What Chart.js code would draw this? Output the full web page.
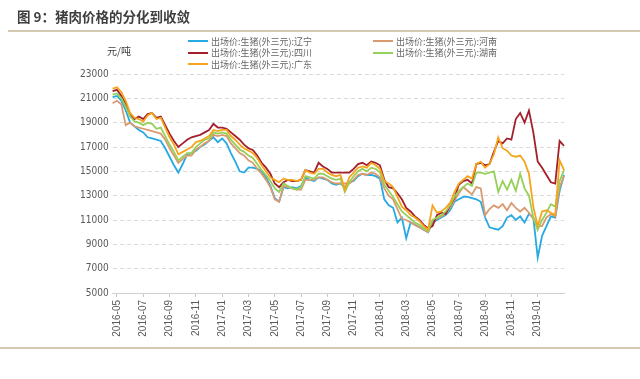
<!DOCTYPE html>
<html><head><meta charset="utf-8">
<script src="https://cdn.jsdelivr.net/npm/chart.js@4"></script>
<style>
html,body{margin:0;padding:0;background:#fff;}
#wrap{position:relative;width:640px;height:379px;overflow:hidden;background:#fff;}
canvas{position:absolute;left:0;top:0;}
.t{position:absolute;white-space:nowrap;}
#title{left:17px;top:8px;font:bold 13.5px "Noto Sans CJK SC",sans-serif;color:#3f3f3f;line-height:16px;}
#unit{left:107px;top:44px;font:10px "Noto Sans CJK SC",sans-serif;color:#404040;line-height:13px;}
.rule{position:absolute;height:2px;background:#d3c9b3;}
.lg{position:absolute;height:12px;font:9px "Noto Sans CJK SC",sans-serif;color:#666;line-height:12px;white-space:nowrap;}
.lg i{display:inline-block;width:20px;height:2px;vertical-align:middle;margin-right:3px;position:relative;top:-1px;}
</style>
</head><body>
<div id="wrap">
<canvas id="c" width="640" height="379"></canvas>
<div id="title" class="t">图 9：猪肉价格的分化到收敛</div>
<div class="rule" style="left:8px;top:30px;width:632px;"></div>
<div class="rule" style="left:0;top:347px;width:640px;"></div>
<div id="unit" class="t">元/吨</div>
<div id="legend"></div>
</div>
<script>
const dates = [
"2016-04-21",
"2016-05-01","2016-05-11","2016-05-21","2016-06-01","2016-06-11","2016-06-21",
"2016-07-01","2016-07-11","2016-07-21","2016-08-01","2016-08-11","2016-08-21",
"2016-09-01","2016-09-11","2016-09-21","2016-10-01","2016-10-11","2016-10-21",
"2016-11-01","2016-11-11","2016-11-21","2016-12-01","2016-12-11","2016-12-21",
"2017-01-01","2017-01-11","2017-01-21","2017-02-01","2017-02-11","2017-02-21",
"2017-03-01","2017-03-11","2017-03-21","2017-04-01","2017-04-11","2017-04-21",
"2017-05-01","2017-05-11","2017-05-21","2017-06-01","2017-06-11","2017-06-21",
"2017-07-01","2017-07-11","2017-07-21","2017-08-01","2017-08-11","2017-08-21",
"2017-09-01","2017-09-11","2017-09-21","2017-10-01","2017-10-11","2017-10-21",
"2017-11-01","2017-11-11","2017-11-21","2017-12-01","2017-12-11","2017-12-21",
"2018-01-01","2018-01-11","2018-01-21","2018-02-01","2018-02-11","2018-02-21",
"2018-03-01","2018-03-11","2018-03-21","2018-04-01","2018-04-11","2018-04-21",
"2018-05-01","2018-05-11","2018-05-21","2018-06-01","2018-06-11","2018-06-21",
"2018-07-01","2018-07-11","2018-07-21","2018-08-01","2018-08-11","2018-08-21",
"2018-09-01","2018-09-11","2018-09-21","2018-10-01","2018-10-11","2018-10-21",
"2018-11-01","2018-11-11","2018-11-21","2018-12-01","2018-12-11","2018-12-21",
"2019-01-01","2019-01-11","2019-01-21","2019-02-01","2019-02-11","2019-02-21",
"2019-03-01"];

const tickLabels = ["2016-05","2016-07","2016-09","2016-11","2017-01","2017-03","2017-05","2017-07","2017-09","2017-11","2018-01","2018-03","2018-05","2018-07","2018-09","2018-11","2019-01"];

const seriesNames = ["出场价:生猪(外三元):辽宁","出场价:生猪(外三元):河南","出场价:生猪(外三元):四川","出场价:生猪(外三元):湖南","出场价:生猪(外三元):广东"];

const liaoning = [
21100,21200,20800,20000,19000,18700,18400,18200,17800,17700,
17600,17500,16900,16200,15500,14900,15600,16400,16500,16700,
17000,17200,17500,17800,17400,17700,17300,16500,15800,15000,
14900,15300,15300,15200,15000,14500,13800,12800,12500,13700,
13600,13700,13600,13800,14500,14300,14200,14500,14400,14300,
14000,13900,14000,13700,14100,14200,14600,14800,14700,14700,
14600,14400,12700,12200,12000,10800,11200,9500,10800,10600,
10400,10200,10000,10800,11000,11200,11400,11800,12500,12700,
12900,12900,12800,12700,12500,11200,10400,10300,10200,10500,
11200,11400,11000,11300,10800,11500,11200,7900,9700,10500,
11300,11200,13400,14700];

const henan = [
20600,20800,20500,18800,19000,18700,18600,18500,18400,18300,
18200,18100,17600,16900,16300,15700,16000,16300,16300,16800,
17000,17300,17500,18000,17900,18000,17900,17300,16900,16500,
16300,15900,15700,15200,14800,14300,13700,12700,12500,13800,
13700,13600,13500,13500,14300,14300,14300,14500,14500,14300,
14100,14000,14000,14000,14000,14300,14700,14800,14700,14900,
14800,14500,13600,13000,12700,11900,11100,11000,10800,10600,
10400,10200,10000,10900,11100,11300,11500,12000,12600,13200,
13700,13400,13100,13700,13600,11400,11900,12200,12000,12300,
11800,12400,12000,11700,12000,11600,11100,10500,10500,11200,
11500,11300,13700,14600];

const sichuan = [
21600,21700,21200,20500,19700,19300,19500,19300,19700,19800,
19400,19500,18800,18100,17500,17000,17300,17600,17800,17900,
18000,18200,18400,18900,18600,18600,18500,18200,17900,17600,
17200,16900,16750,16300,15700,15300,14800,14000,13700,14100,
14300,14200,14200,14300,15100,15000,14900,15700,15400,15200,
14900,14900,14900,14900,14900,15200,15600,15700,15500,15800,
15700,15500,14300,13700,13600,13200,12700,12000,11700,11300,
11000,10600,10300,10500,11400,11600,11500,12200,12800,13900,
14200,14300,14000,15600,15700,15500,15600,16600,17500,17300,
17700,17600,19300,19800,19000,20000,18200,15800,15300,14700,
14100,14000,17500,17100];

const hunan = [
21300,21400,21000,20300,19500,19100,19000,18800,19000,18900,
18500,18600,17900,17200,16600,15900,16200,16500,16500,17000,
17300,17600,17700,18200,18100,18200,18100,17600,17200,16800,
16600,16300,16100,15600,15100,14700,14200,13600,13300,14000,
13800,13600,13500,13700,14600,14500,14400,14800,14800,14600,
14400,14300,14400,13300,14100,14600,15000,15200,15000,15300,
15200,14900,13900,13400,12900,12300,11700,11400,11100,10800,
10600,10300,10100,11000,11200,11400,11700,12200,12900,13400,
13700,14000,13800,14900,14900,14800,14900,15000,13300,14200,
13500,14300,13400,14800,13600,13000,11200,10200,11000,11600,
12300,12100,14200,15100];

const guangdong = [
21800,21900,21500,20800,19800,19400,19300,19100,19600,19800,
19300,19400,18600,17800,17200,16400,16600,16800,17000,17400,
17500,17700,17900,18400,18300,18400,18400,17900,17600,17200,
16900,16700,16500,16100,15500,15000,14500,14300,14100,14400,
14300,14300,14200,14300,15100,14900,14800,15200,15200,14900,
14700,14600,14700,13500,14500,14900,15300,15400,15300,15700,
15500,15200,14200,14000,13700,12900,12100,11800,11400,11200,
10900,10500,10200,12200,11600,11700,12000,12400,13300,14000,
14300,14600,14400,15600,15800,15300,15600,16400,17800,16900,
16700,16300,16200,16300,15800,14800,12100,10500,11700,11800,
11600,11400,15900,15100];

const seriesData = [liaoning, henan, sichuan, hunan, guangdong];
const colors = ["#27a9e1","#d99a70","#a31f2b","#95d05a","#f5a41e"];
const legendPos = [[188,35.5],[373,35.5],[188,47],[373,47],[188,58.5]];

const ctx = document.getElementById('c').getContext('2d');
const chart = new Chart(ctx, {
  type: 'line',
  data: {
    labels: dates,
    datasets: seriesData.map((d, k) => ({
      label: seriesNames[k], data: d, borderColor: colors[k], backgroundColor: colors[k],
      borderWidth: 1.8, pointRadius: 0, tension: 0, fill: false, order: 5 - k
    }))
  },
  options: {
    responsive: false, animation: false,
    layout: { padding: { top: 74, right: 76, left: 0, bottom: 0 } },
    plugins: { legend: { display: false }, tooltip: { enabled: false } },
    scales: {
      x: {
        type: 'category', offset: false,
        grid: { display: true, drawOnChartArea: false, tickLength: 4, color: '#c8c8c8' },
        border: { display: true, color: '#d0d0d0' },
        ticks: {
          autoSkip: false, maxRotation: 90, minRotation: 90, padding: 3,
          color: '#595959', font: { family: "'Liberation Sans', Arial, sans-serif", size: 10 },
          callback: function (v) { return this.getLabelForValue(v).slice(0, 7); }
        },
        afterBuildTicks: (scale) => {
          scale.ticks = scale.ticks.filter(t => {
            const d = dates[t.value];
            return d && d.endsWith('-01') && tickLabels.includes(d.slice(0, 7));
          });
        },
        afterFit: (s) => { s.height = 86; }
      },
      y: {
        min: 5000, max: 23000,
        ticks: { stepSize: 2000, padding: 4, color: '#595959',
          font: { family: "'Liberation Sans Narrow', 'DejaVu Sans Condensed', 'Liberation Sans', sans-serif", size: 10 },
          callback: (v) => String(v) },
        grid: { color: '#d9d9d9', drawTicks: false, lineWidth: 1 },
        border: { display: false, dash: [4, 3] },
        afterFit: (s) => { s.width = 112.6; }
      }
    }
  }
});

const lg = document.getElementById('legend');
seriesNames.forEach((name, k) => {
  const el = document.createElement('div');
  el.className = 'lg';
  el.style.left = legendPos[k][0] + 'px';
  el.style.top = legendPos[k][1] + 'px';
  el.innerHTML = '<i style="background:' + colors[k] + '"></i>' + name;
  lg.appendChild(el);
});
</script>
</body></html>
